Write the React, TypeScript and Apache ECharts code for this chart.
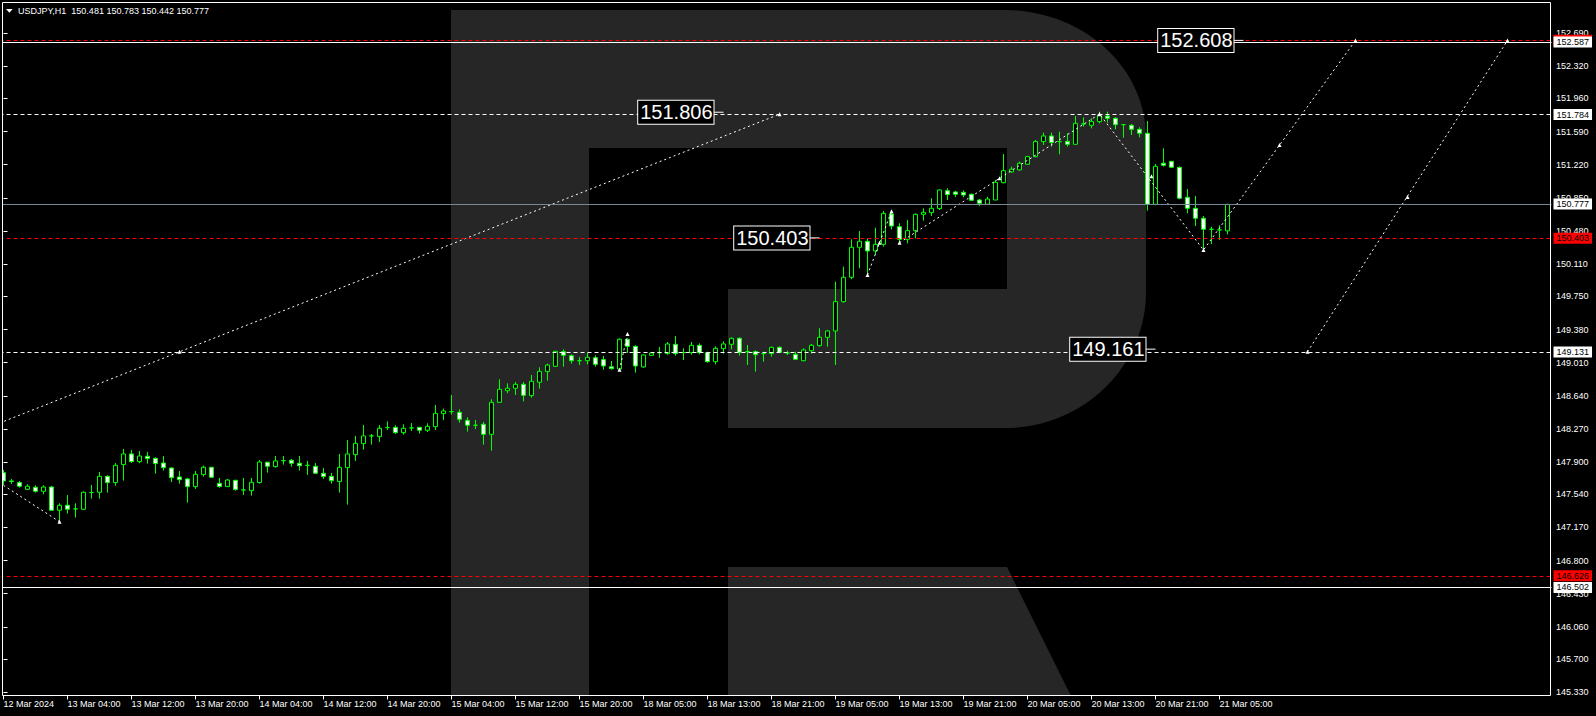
import React, { useEffect, useRef } from 'react';
import * as echarts from 'echarts';

const SYMBOL = 'USDJPY,H1';
const LAST_OHLC = [150.481, 150.783, 150.442, 150.777];

// hourly bars; a labelled tick every 8 bars
const X_TICK_LABELS = [
  '12 Mar 2024', '13 Mar 04:00', '13 Mar 12:00', '13 Mar 20:00', '14 Mar 04:00',
  '14 Mar 12:00', '14 Mar 20:00', '15 Mar 04:00', '15 Mar 12:00', '15 Mar 20:00',
  '18 Mar 05:00', '18 Mar 13:00', '18 Mar 21:00', '19 Mar 05:00', '19 Mar 13:00',
  '19 Mar 21:00', '20 Mar 05:00', '20 Mar 13:00', '20 Mar 21:00', '21 Mar 05:00',
];
const X_TICK_STEP = 8;
const BAR_SLOTS = 194;

const Y_TICKS = [
  145.33, 145.7, 146.06, 146.43, 146.8, 147.17, 147.54, 147.9, 148.27, 148.64, 149.01,
  149.38, 149.75, 150.11, 150.48, 150.85, 151.22, 151.59, 151.96, 152.32, 152.69,
];
const Y_MIN = 145.294;
const Y_MAX = 153.031;

// [open, close, low, high]
const CANDLES: number[][] = [
  [147.782, 147.689, 147.645, 147.812], [147.689, 147.683, 147.656, 147.712], [147.671, 147.63, 147.615, 147.689],
  [147.596, 147.63, 147.589, 147.652], [147.619, 147.574, 147.559, 147.641], [147.574, 147.622, 147.541, 147.641],
  [147.622, 147.362, 147.358, 147.633], [147.362, 147.418, 147.235, 147.44], [147.418, 147.373, 147.325, 147.533],
  [147.377, 147.377, 147.28, 147.44], [147.373, 147.563, 147.369, 147.574], [147.56, 147.56, 147.492, 147.645],
  [147.563, 147.741, 147.492, 147.79], [147.741, 147.671, 147.559, 147.753], [147.671, 147.864, 147.637, 147.89],
  [147.872, 147.991, 147.693, 148.047], [147.991, 147.905, 147.89, 148.035], [147.905, 147.968, 147.887, 148.024],
  [147.965, 147.939, 147.883, 148.013], [147.942, 147.883, 147.771, 147.953], [147.89, 147.838, 147.805, 147.968],
  [147.834, 147.726, 147.678, 147.842], [147.734, 147.704, 147.66, 147.801], [147.712, 147.626, 147.447, 147.723],
  [147.626, 147.764, 147.6, 147.801], [147.76, 147.842, 147.738, 147.86], [147.842, 147.73, 147.726, 147.845],
  [147.663, 147.626, 147.615, 147.723], [147.626, 147.7, 147.622, 147.712], [147.697, 147.593, 147.581, 147.7],
  [147.589, 147.589, 147.533, 147.723], [147.581, 147.674, 147.526, 147.723], [147.671, 147.901, 147.66, 147.924],
  [147.898, 147.853, 147.782, 147.901], [147.849, 147.913, 147.838, 147.968], [147.916, 147.916, 147.872, 147.968],
  [147.92, 147.887, 147.849, 147.935], [147.887, 147.86, 147.805, 147.968], [147.864, 147.864, 147.756, 147.913],
  [147.853, 147.775, 147.767, 147.89], [147.775, 147.738, 147.712, 147.834], [147.741, 147.693, 147.66, 147.779],
  [147.682, 147.842, 147.559, 147.991], [147.838, 147.991, 147.425, 148.147], [147.983, 148.11, 147.913, 148.192],
  [148.106, 148.192, 148.039, 148.314], [148.192, 148.192, 148.095, 148.214], [148.184, 148.277, 148.125, 148.314],
  [148.285, 148.285, 148.259, 148.355], [148.288, 148.229, 148.214, 148.311], [148.229, 148.277, 148.206, 148.322],
  [148.281, 148.281, 148.247, 148.336], [148.288, 148.255, 148.218, 148.292], [148.255, 148.299, 148.236, 148.333],
  [148.296, 148.444, 148.258, 148.538], [148.441, 148.47, 148.37, 148.497], [148.463, 148.463, 148.43, 148.649],
  [148.456, 148.377, 148.34, 148.489], [148.366, 148.311, 148.24, 148.4], [148.311, 148.311, 148.27, 148.37],
  [148.322, 148.21, 148.095, 148.348], [148.21, 148.567, 148.028, 148.601], [148.567, 148.712, 148.563, 148.824],
  [148.697, 148.724, 148.668, 148.779], [148.724, 148.768, 148.649, 148.794], [148.768, 148.645, 148.578, 148.794],
  [148.642, 148.802, 148.619, 148.872], [148.791, 148.913, 148.72, 148.958], [148.91, 148.984, 148.809, 148.999],
  [148.969, 149.137, 148.965, 149.14], [149.133, 149.092, 148.965, 149.159], [149.088, 149.032, 149.0, 149.103],
  [149.032, 149.032, 148.984, 149.073], [149.032, 149.07, 148.991, 149.118], [149.066, 148.991, 148.965, 149.092],
  [149.044, 148.973, 148.932, 149.085], [148.965, 148.943, 148.932, 149.029], [148.939, 149.271, 148.917, 149.282],
  [149.271, 149.192, 149.118, 149.282], [149.192, 148.973, 148.898, 149.204], [148.962, 149.096, 148.954, 149.1],
  [149.092, 149.118, 149.085, 149.122], [149.122, 149.122, 149.066, 149.185], [149.111, 149.219, 149.099, 149.241],
  [149.215, 149.111, 149.088, 149.308], [149.122, 149.122, 149.04, 149.17], [149.122, 149.204, 149.099, 149.241],
  [149.204, 149.122, 149.103, 149.226], [149.122, 149.021, 149.01, 149.133], [149.021, 149.17, 148.991, 149.192],
  [149.167, 149.219, 149.111, 149.248], [149.215, 149.282, 149.159, 149.293], [149.282, 149.125, 149.088, 149.293],
  [149.133, 149.133, 148.984, 149.207], [149.133, 149.099, 148.91, 149.148], [149.111, 149.111, 149.021, 149.133],
  [149.111, 149.181, 149.077, 149.189], [149.181, 149.125, 149.118, 149.192], [149.118, 149.118, 149.096, 149.144],
  [149.103, 149.047, 149.04, 149.133], [149.032, 149.152, 149.025, 149.17], [149.144, 149.204, 149.111, 149.219],
  [149.2, 149.293, 149.189, 149.394], [149.293, 149.364, 149.189, 149.375], [149.364, 149.691, 148.984, 149.914],
  [149.691, 149.963, 149.68, 150.082], [149.963, 150.298, 149.941, 150.387], [150.298, 150.365, 150.063, 150.48],
  [150.365, 150.257, 149.989, 150.398], [150.257, 150.331, 150.212, 150.517], [150.331, 150.677, 150.305, 150.703],
  [150.67, 150.536, 150.499, 150.715], [150.528, 150.387, 150.35, 150.566], [150.387, 150.484, 150.342, 150.603],
  [150.484, 150.666, 150.398, 150.677], [150.666, 150.688, 150.595, 150.733], [150.685, 150.733, 150.648, 150.845],
  [150.73, 150.938, 150.715, 150.945], [150.93, 150.886, 150.826, 150.956], [150.916, 150.89, 150.86, 150.93],
  [150.912, 150.882, 150.856, 150.934], [150.89, 150.823, 150.815, 150.897], [150.826, 150.789, 150.759, 150.837],
  [150.778, 150.837, 150.77, 150.863], [150.826, 151.023, 150.826, 151.05], [151.019, 151.154, 151.012, 151.34],
  [151.14, 151.169, 151.131, 151.199], [151.162, 151.236, 151.154, 151.254], [151.225, 151.31, 151.217, 151.318],
  [151.31, 151.478, 151.303, 151.496], [151.478, 151.541, 151.44, 151.578], [151.541, 151.467, 151.422, 151.578],
  [151.478, 151.478, 151.336, 151.589], [151.481, 151.448, 151.422, 151.571], [151.448, 151.682, 151.44, 151.764],
  [151.675, 151.675, 151.645, 151.749], [151.66, 151.701, 151.626, 151.738], [151.701, 151.764, 151.682, 151.813],
  [151.764, 151.738, 151.69, 151.813], [151.738, 151.667, 151.615, 151.749], [151.667, 151.667, 151.522, 151.67],
  [151.66, 151.615, 151.552, 151.675], [151.615, 151.571, 151.526, 151.638], [151.571, 150.778, 150.707, 151.708],
  [150.778, 151.202, 150.767, 151.228], [151.236, 151.213, 151.199, 151.403], [151.258, 151.191, 151.185, 151.262],
  [151.191, 150.845, 150.834, 151.199], [150.856, 150.733, 150.677, 150.949], [150.733, 150.622, 150.536, 150.871],
  [150.622, 150.499, 150.268, 150.647], [150.499, 150.499, 150.335, 150.528], [150.492, 150.492, 150.38, 150.543],
  [150.481, 150.777, 150.442, 150.783],
];

// horizontal levels
const H_PRICES = [152.608, 152.587, 151.784, 150.777, 150.403, 149.131, 146.626, 146.502];
const H_COLORS = ['#ff0000', '#ffffff', '#ffffff', '#778899', '#ff0000', '#ffffff', '#ff0000', '#ffffff'];
const H_DASHED = [true, false, true, false, true, true, true, false];
const H_TAG_BG = ['#ff0000', '#ffffff', '#ffffff', '#ffffff', '#ff0000', '#ffffff', '#ff0000', '#ffffff'];

// price labels inside the chart: [bar, price]
const PRICE_TAGS = [[155, 152.608], [90, 151.806], [102, 150.403], [144, 149.161]];

// forecast / wave lines: [bar, price]
const TREND_A = [[22, 149.131], [97, 151.784]];
const WAVE_PATHS = [
  [[0, 147.64], [7, 147.235]],
  [[77, 148.93], [78, 149.33]],
  [[108, 149.99], [111, 150.7]],
  [[112, 150.35], [137, 151.786], [150, 150.268], [169, 152.608]],
  [[163, 149.131], [188, 152.608]],
];
const MARKERS = [
  [7, 147.235], [22, 149.131], [97, 151.784], [77, 148.93], [78, 149.33], [108, 149.99],
  [109.5, 150.35], [111, 150.7], [112, 150.35], [124.5, 151.07], [137, 151.786], [143.5, 151.09],
  [150, 150.268], [159.5, 151.44], [169, 152.608], [163, 149.131], [175.5, 150.86], [188, 152.608],
];

const FONT = 'Liberation Sans';
const LOGO_D =
  'M451 10 H1005 C1083 10 1146 67 1146 137 V292 C1146 367 1083 428 1005 428 H728 V289 H1007 V148 H589 V696 H451 Z M728 567 H1007 L1071 696 H728 Z';

export default function App() {
  const ref = useRef<HTMLDivElement>(null);
  useEffect(() => {
    document.body.style.margin = '0';
    document.body.style.background = '#000';
    echarts.graphic.registerShape('logo', echarts.graphic.extendPath(LOGO_D, {}));
    const chart = echarts.init(ref.current!, null, { renderer: 'svg' });

    const tickFilter = (i: number) => i % X_TICK_STEP === 0 && i / X_TICK_STEP < X_TICK_LABELS.length;
    const slope = (TREND_A[1][1] - TREND_A[0][1]) / (TREND_A[1][0] - TREND_A[0][0]);
    const trendLeft = [-0.5, TREND_A[0][1] + (-0.5 - TREND_A[0][0]) * slope];
    const trendData = [trendLeft, ...TREND_A];

    const dotted = { color: '#ffffff', width: 1, type: [2, 3] as number[] };

    const option: any = {
      animation: false,
      backgroundColor: '#000',
      textStyle: { fontFamily: FONT },
      grid: { left: -0.5, right: 44.5, top: 2.5, bottom: 20.5, show: false, outerBoundsMode: 'none' },
      xAxis: [
        {
          type: 'category',
          data: Array.from({ length: BAR_SLOTS }, (_, i) => String(i)),
          boundaryGap: true,
          axisLine: { show: false },
          axisTick: { show: true, alignWithLabel: true, interval: tickFilter, length: 4, lineStyle: { color: '#fff' } },
          axisLabel: {
            interval: tickFilter,
            formatter: (v: string) => X_TICK_LABELS[Math.round(Number(v) / X_TICK_STEP)] || '',
            color: '#fff', fontSize: 9, align: 'left', margin: 4, fontFamily: FONT,
          },
          splitLine: { show: false },
        },
        { type: 'value', min: -0.5, max: BAR_SLOTS - 0.5, show: false },
      ],
      yAxis: {
        type: 'value', position: 'right', min: Y_MIN, max: Y_MAX, offset: -1.5, scale: true,
        axisLine: { show: false },
        axisTick: { show: true, length: 4, customValues: Y_TICKS, lineStyle: { color: '#fff' } },
        axisLabel: {
          customValues: Y_TICKS, formatter: (v: number) => v.toFixed(3),
          color: '#fff', fontSize: 9, margin: 6, fontFamily: FONT,
        },
        splitLine: { show: false },
      },
      series: [
        {
          type: 'candlestick', xAxisIndex: 0, yAxisIndex: 0, data: CANDLES, barWidth: 4, z: 3,
          itemStyle: {
            color: '#000000', color0: '#ffffff', borderColor: '#00ff00', borderColor0: '#00ff00',
            borderColorDoji: '#00ff00', borderWidth: 1,
          },
          markLine: {
            symbol: ['none', 'none'], silent: true, animation: false,
            data: H_PRICES.map((p, i) => ({
              yAxis: p,
              lineStyle: { color: H_COLORS[i], width: 1, opacity: 1, type: H_DASHED[i] ? [4, 3] : 'solid' },
              label: {
                show: true, position: 'end', distance: 2, formatter: p.toFixed(3),
                backgroundColor: H_TAG_BG[i], color: '#000', fontSize: 9, fontFamily: FONT,
                lineHeight: 10, padding: [1, 3, 0, 3],
              },
            })),
          },
        },
        {
          type: 'line', xAxisIndex: 1, yAxisIndex: 0, data: trendData, symbol: 'none',
          lineStyle: dotted, silent: true, z: 4,
        },
        ...WAVE_PATHS.map((p) => ({
          type: 'line', xAxisIndex: 1, yAxisIndex: 0, data: p, symbol: 'none',
          lineStyle: dotted, silent: true, z: 4,
        })),
        {
          type: 'scatter', xAxisIndex: 1, yAxisIndex: 0, data: MARKERS, symbol: 'triangle',
          symbolSize: 4, itemStyle: { color: '#fff', opacity: 1 }, silent: true, z: 5,
        },
        {
          type: 'scatter', xAxisIndex: 1, yAxisIndex: 0, data: PRICE_TAGS, symbol: 'rect',
          symbolSize: [10, 1], symbolOffset: [-5, 0], itemStyle: { color: '#fff', opacity: 1 }, silent: true, z: 6,
          label: {
            show: true, position: 'left', distance: 0,
            formatter: (p: any) => p.value[1].toFixed(3),
            color: '#ffffff', opacity: 1, textBorderWidth: 0, textShadowBlur: 0,
            fontSize: 20, lineHeight: 20, fontFamily: FONT,
            backgroundColor: '#000000', borderColor: '#ffffff', borderWidth: 1, padding: [2, 1, 1, 2],
          },
        },
      ],
      graphic: {
        elements: [
          { type: 'logo', x: 0, y: 0, z: -10, silent: true, style: { fill: '#262626' } },
          { type: 'rect', z: 99, silent: true, shape: { x: 0, y: 0, width: 2, height: 716 }, style: { fill: '#000' } },
          {
            type: 'rect', z: 100, silent: true, shape: { x: 2.5, y: 2.5, width: 1548, height: 693 },
            style: { fill: 'none', stroke: '#fff', lineWidth: 1 },
          },
          {
            type: 'polygon', z: 100, silent: true, shape: { points: [[6, 9], [12.7, 9], [9.35, 12.7]] },
            style: { fill: '#fff' },
          },
          {
            type: 'text', z: 100, silent: true, x: 18, y: 11,
            style: {
              text: `${SYMBOL}  ${LAST_OHLC.map((v) => v.toFixed(3)).join(' ')}`,
              fill: '#fff', font: `9px ${FONT}`, verticalAlign: 'middle',
            },
          },
        ],
      },
    };
    chart.setOption(option);
    return () => chart.dispose();
  }, []);
  return <div ref={ref} style={{ width: 1596, height: 716, background: '#000' }} />;
}
